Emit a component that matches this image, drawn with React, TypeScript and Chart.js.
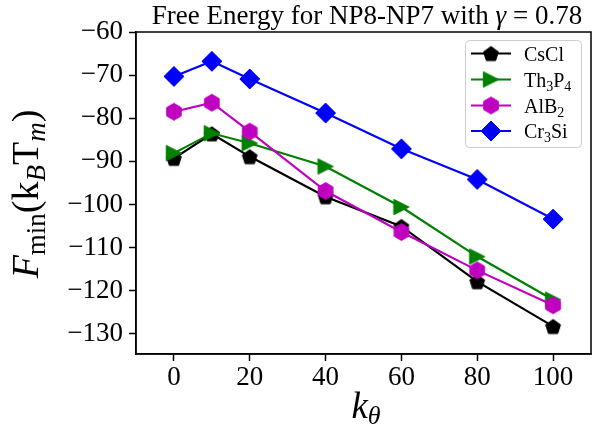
import React, { useEffect, useRef } from "react";
import { Chart, registerables } from "chart.js";

Chart.register(...registerables);

// ---- data ----
const kTheta = [0, 10, 20, 40, 60, 80, 100];
const seriesNames = ["CsCl", "Th₃P₄", "AlB₂", "Cr₃Si"];
const csclValues = [-89.3, -83.6, -88.9, -98.2, -105.1, -117.9, -128.3];
const th3p4Values = [-88.1, -83.5, -85.8, -91.2, -100.6, -112.1, -122.1];
const alb2Values = [-78.5, -76.4, -83.1, -96.9, -106.4, -115.3, -123.4];
const cr3siValues = [-70.3, -66.8, -70.9, -78.8, -87.1, -94.2, -103.4];
const seriesColors = ["#000000", "#008000", "#bf00bf", "#0000ff"];
const seriesMarkers = ["pentagon", "triangleRight", "hexagon", "diamond"];
const xTicks = [0, 20, 40, 60, 80, 100];
const yTicks = [-130, -120, -110, -100, -90, -80, -70, -60];
const titleParts = ["Free Energy for NP8-NP7 with ", "γ", " = 0.78"];
const xMin = -10;
const xMax = 110;
const yMin = -134.7;
const yMax = -60;

const SERIF = '"Liberation Serif", "DejaVu Serif", serif';

function makeMarker(kind: string, color: string): HTMLCanvasElement {
  const c = document.createElement("canvas");
  c.width = 26;
  c.height = 26;
  const g = c.getContext("2d")!;
  const cx = 13, cy = 13;
  g.beginPath();
  if (kind === "pentagon") {
    const R = 7.8;
    for (let i = 0; i < 5; i++) {
      const a = -Math.PI / 2 + (i * 2 * Math.PI) / 5;
      const px = cx + R * Math.cos(a), py = cy + R * Math.sin(a) + 0.8;
      i === 0 ? g.moveTo(px, py) : g.lineTo(px, py);
    }
  } else if (kind === "hexagon") {
    const R = 8.4;
    for (let i = 0; i < 6; i++) {
      const a = -Math.PI / 2 + (i * Math.PI) / 3;
      const px = cx + R * Math.cos(a), py = cy + R * Math.sin(a);
      i === 0 ? g.moveTo(px, py) : g.lineTo(px, py);
    }
  } else if (kind === "triangleRight") {
    const s = 7.7;
    g.moveTo(cx + s, cy);
    g.lineTo(cx - s, cy - s);
    g.lineTo(cx - s, cy + s);
  } else {
    const r = 10;
    g.moveTo(cx, cy - r);
    g.lineTo(cx + r, cy);
    g.lineTo(cx, cy + r);
    g.lineTo(cx - r, cy);
  }
  g.closePath();
  g.fillStyle = color;
  g.fill();
  g.strokeStyle = color;
  g.lineWidth = 1;
  g.stroke();
  return c;
}

type Seg = { text: string; size: number; italic?: boolean; dy?: number };

function segWidth(ctx: CanvasRenderingContext2D, s: Seg) {
  ctx.font = `${s.italic ? "italic " : ""}${s.size}px ${SERIF}`;
  return ctx.measureText(s.text).width;
}

function drawSegs(ctx: CanvasRenderingContext2D, segs: Seg[], x: number, y: number, align: "left" | "center") {
  const total = segs.reduce((acc, s) => acc + segWidth(ctx, s), 0);
  let cx = align === "center" ? x - total / 2 : x;
  ctx.textAlign = "left";
  for (const s of segs) {
    ctx.font = `${s.italic ? "italic " : ""}${s.size}px ${SERIF}`;
    ctx.fillText(s.text, cx, y + (s.dy || 0));
    cx += ctx.measureText(s.text).width;
  }
}

const SUBS = "₀₁₂₃₄₅₆₇₈₉";
function labelSegs(label: string, size: number): Seg[] {
  const segs: Seg[] = [];
  for (const ch of label) {
    const i = SUBS.indexOf(ch);
    if (i >= 0) segs.push({ text: String(i), size: size * 0.7, dy: size * 0.22 });
    else segs.push({ text: ch, size });
  }
  return segs;
}

const fmt = (v: number) => String(v).replace("-", "\u2212");

export default function App() {
  const ref = useRef<HTMLCanvasElement>(null);

  useEffect(() => {
    document.body.style.margin = "0";
    const markers = seriesColors.map((c, i) => makeMarker(seriesMarkers[i], c));
    const valueSets = [csclValues, th3p4Values, alb2Values, cr3siValues];

    const decor = {
      id: "decor",
      afterDatasetsDraw(chart: any) {
        const { ctx, chartArea: a } = chart;
        ctx.save();
        // frame
        ctx.strokeStyle = "#000";
        ctx.lineWidth = 1.5;
        ctx.strokeRect(a.left, a.top, a.right - a.left, a.bottom - a.top);

        // legend
        const bx = 465.5, by = 40.5, bw = 116, bh = 107, r = 4;
        ctx.beginPath();
        ctx.moveTo(bx + r, by);
        ctx.arcTo(bx + bw, by, bx + bw, by + bh, r);
        ctx.arcTo(bx + bw, by + bh, bx, by + bh, r);
        ctx.arcTo(bx, by + bh, bx, by, r);
        ctx.arcTo(bx, by, bx + bw, by, r);
        ctx.closePath();
        ctx.fillStyle = "rgba(255,255,255,0.8)";
        ctx.fill();
        ctx.strokeStyle = "#cccccc";
        ctx.lineWidth = 1;
        ctx.stroke();
        const rows = [53.5, 79.5, 105.5, 131];
        seriesNames.forEach((name, i) => {
          const yy = rows[i];
          ctx.strokeStyle = seriesColors[i];
          ctx.lineWidth = 2.2;
          ctx.beginPath();
          ctx.moveTo(471, yy);
          ctx.lineTo(511, yy);
          ctx.stroke();
          const m = markers[i];
          ctx.drawImage(m, 491 - m.width / 2, yy - m.height / 2);
          ctx.fillStyle = "#000";
          ctx.textBaseline = "alphabetic";
          drawSegs(ctx, labelSegs(name, 20), 524, yy + 7, "left");
        });
        ctx.restore();
      },
      afterDraw(chart: any) {
        const { ctx } = chart;
        ctx.save();
        ctx.fillStyle = "#000";
        ctx.textBaseline = "alphabetic";
        // title
        drawSegs(
          ctx,
          [
            { text: titleParts[0], size: 27 },
            { text: titleParts[1], size: 27, italic: true },
            { text: titleParts[2], size: 27 },
          ],
          367,
          24,
          "center"
        );
        // x label
        drawSegs(
          ctx,
          [
            { text: "k", size: 37, italic: true },
            { text: "θ", size: 26, italic: true, dy: 6 },
          ],
          366,
          418,
          "center"
        );
        // y label
        ctx.translate(38, 194);
        ctx.rotate(-Math.PI / 2);
        drawSegs(
          ctx,
          [
            { text: "F", size: 38, italic: true },
            { text: "min", size: 27, dy: 7 },
            { text: "(k", size: 38 },
            { text: "B", size: 27, italic: true, dy: 7 },
            { text: "T", size: 38 },
            { text: "m", size: 27, italic: true, dy: 7 },
            { text: ")", size: 38 },
          ],
          0,
          0,
          "center"
        );
        ctx.restore();
      },
    };

    const chart = new Chart(ref.current!, {
      type: "line",
      data: {
        datasets: seriesNames.map((name, i) => ({
          label: name,
          data: kTheta.map((x, j) => ({ x, y: valueSets[i][j] })),
          borderColor: seriesColors[i],
          backgroundColor: seriesColors[i],
          borderWidth: 2.2,
          pointStyle: markers[i] as any,
          pointRadius: 9,
          tension: 0,
          fill: false,
          order: seriesNames.length - i,
        })),
      },
      options: {
        animation: false,
        responsive: false,
        events: [],
        layout: { autoPadding: false, padding: { top: 32, right: 3, left: 0, bottom: 0 } },
        plugins: {
          legend: { display: false },
          title: { display: false },
          tooltip: { enabled: false },
        },
        scales: {
          x: {
            type: "linear",
            min: xMin,
            max: xMax,
            afterBuildTicks: (s: any) => {
              s.ticks = xTicks.map((v) => ({ value: v }));
            },
            afterFit: (s: any) => {
              s.height = 76;
              s.paddingLeft = 0;
              s.paddingRight = 0;
            },
            grid: {
              display: true,
              drawOnChartArea: false,
              drawTicks: true,
              tickLength: 7,
              tickWidth: 1.5,
              tickColor: "#000",
            },
            border: { display: true, color: "#000", width: 1.5 },
            ticks: {
              autoSkip: false,
              maxRotation: 0,
              padding: 1,
              color: "#000",
              font: { family: SERIF, size: 27 },
              callback: (v: any) => fmt(Number(v)),
            },
          },
          y: {
            type: "linear",
            min: yMin,
            max: yMax,
            afterBuildTicks: (s: any) => {
              s.ticks = yTicks.map((v) => ({ value: v }));
            },
            afterFit: (s: any) => {
              s.width = 136;
              s.paddingTop = 0;
              s.paddingBottom = 0;
            },
            grid: {
              display: true,
              drawOnChartArea: false,
              drawTicks: true,
              tickLength: 7,
              tickWidth: 1.5,
              tickColor: "#000",
            },
            border: { display: true, color: "#000", width: 1.5 },
            ticks: {
              autoSkip: false,
              padding: 6,
              color: "#000",
              font: { family: SERIF, size: 27 },
              callback: (v: any) => fmt(Number(v)),
            },
          },
        },
      },
      plugins: [decor],
    });
    return () => chart.destroy();
  }, []);

  return (
    <div style={{ width: 594, height: 430, background: "#fff" }}>
      <canvas ref={ref} width={594} height={430} style={{ display: "block" }} />
    </div>
  );
}
